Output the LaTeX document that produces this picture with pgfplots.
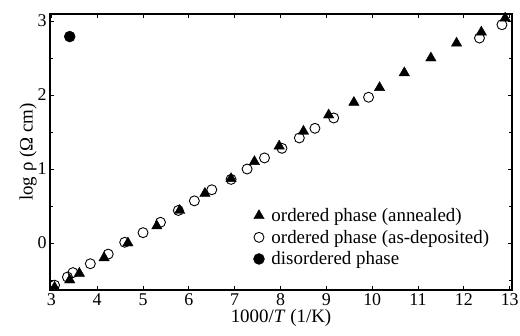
\documentclass[border=0pt]{standalone}
\usepackage{pgfplots}
\pgfplotsset{compat=1.18}
\usepackage{fontspec}
\setmainfont{Liberation Serif}
\begin{document}
\begin{tikzpicture}[x=1bp,y=1bp]
\path[use as bounding box] (0,0) rectangle (520,335);
\begin{axis}[
  at={(50bp,45bp)}, anchor=south west,
  scale only axis,
  width=462bp, height=276bp,
  xmin=2.97, xmax=13.05,
  ymin=-0.635, ymax=3.095,
  xtick={3,4,...,13},
  ytick={0,1,2,3},
  minor ytick={-0.5,0.5,1.5,2.5},
  tick align=inside,
  major tick length=4bp, minor tick length=3bp,
  axis line style={line width=1.2pt},
  tick style={line width=0.8pt, black},
  ticklabel style={font=\fontsize{18}{21}\selectfont},
  /pgf/number format/assume math mode=true,
  xlabel={1000/\textit{T} (1/K)},
  ylabel={log ρ (Ω cm)},
  label style={font=\fontsize{19}{22}\selectfont},
  xlabel style={yshift=3bp},
  ylabel style={yshift=-6bp},
  legend style={at={(axis description cs:0.44,0.30)}, anchor=north west, draw=none, fill=none,
    font=\fontsize{19}{22}\selectfont, row sep=5bp, inner sep=0pt, nodes={inner sep=1bp}},
  legend cell align=left,
]
\addplot[only marks, mark=triangle*, mark size=6bp, mark options={fill=black, draw=black}] coordinates {
(3.07,-0.6)(3.4,-0.5)(3.61,-0.41)(4.15,-0.2)(4.67,0.0)(5.3,0.23)(5.8,0.44)(6.35,0.67)(6.92,0.87)(7.43,1.1)(7.97,1.31)(8.5,1.51)(9.05,1.73)(9.6,1.9)(10.16,2.1)(10.7,2.3)(11.28,2.5)(11.84,2.7)(12.38,2.85)(12.9,3.04)
};
\addlegendentry{\hspace*{6bp}ordered phase (annealed)}
\addplot[only marks, mark=o, mark size=5bp, mark options={draw=black, line width=0.9pt}] coordinates {
(3.07,-0.57)(3.35,-0.46)(3.47,-0.40)(3.85,-0.28)(4.24,-0.15)(4.6,0.01)(5.0,0.14)(5.38,0.28)(5.77,0.44)(6.12,0.57)(6.5,0.72)(6.92,0.86)(7.27,1.0)(7.65,1.15)(8.03,1.28)(8.41,1.42)(8.75,1.55)(9.16,1.69)(9.92,1.97)(12.34,2.77)(12.83,2.95)
};
\addlegendentry{\hspace*{6bp}ordered phase (as-deposited)}
\addplot[only marks, mark=*, mark size=5.5bp, mark options={fill=black, draw=black}] coordinates {
(3.4,2.79)
};
\addlegendentry{\hspace*{6bp}disordered phase}
\end{axis}
\end{tikzpicture}
\end{document}
